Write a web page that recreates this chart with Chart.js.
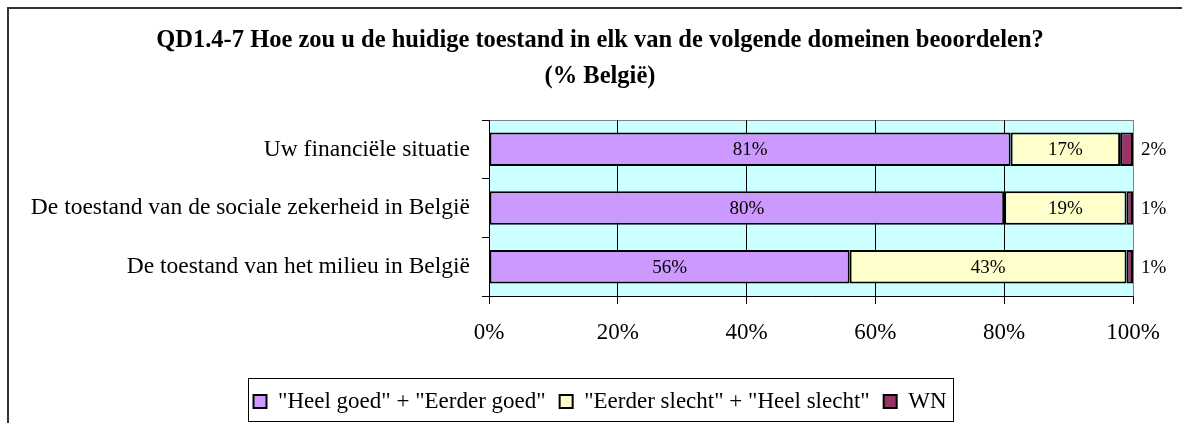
<!DOCTYPE html>
<html>
<head>
<meta charset="utf-8">
<script src="https://cdn.jsdelivr.net/npm/chart.js@4/dist/chart.umd.min.js"></script>
<style>
  html, body { margin: 0; padding: 0; background: #fff; }
  #wrap { width: 1182px; height: 423px; position: relative; }
</style>
</head>
<body>
<div id="wrap"><canvas id="chart"></canvas></div>
<script>
// categories, top to bottom
const categories = [
  'Uw financiële situatie',
  'De toestand van de sociale zekerheid in België',
  'De toestand van het milieu in België'
];
const seriesNames = ['"Heel goed" + "Eerder goed"', '"Eerder slecht" + "Heel slecht"', 'WN'];
const goed = [81, 80, 56];
const slecht = [17, 19, 43];
const wn = [2, 1, 1];
const xTicks = [0, 20, 40, 60, 80, 100];

const serif = '"Liberation Serif", "Times New Roman", serif';

// cyan plot background, grey frame round plot and outer frame
const backdrop = {
  id: 'backdrop',
  beforeDraw(chart) {
    const {ctx, chartArea: a} = chart;
    ctx.save();
    ctx.fillStyle = '#CCFFFF';
    ctx.fillRect(a.left, a.top, a.right - a.left, a.bottom - a.top);
    ctx.strokeStyle = '#808080';
    ctx.lineWidth = 1;
    ctx.strokeRect(a.left + 0.5, a.top + 0.5, a.right - a.left, a.bottom - a.top);
    ctx.strokeStyle = '#333';
    ctx.lineWidth = 2;
    ctx.strokeRect(8, 8, 1300, 600);
    ctx.restore();
  }
};

// percentage labels on the bars, WN outside on the right
const barLabels = {
  id: 'barLabels',
  afterDatasetsDraw(chart) {
    const {ctx} = chart;
    ctx.save();
    ctx.font = '19px ' + serif;
    ctx.fillStyle = '#000';
    ctx.textBaseline = 'middle';
    chart.data.datasets.forEach((ds, i) => {
      chart.getDatasetMeta(i).data.forEach((el, j) => {
        const txt = ds.data[j] + '%';
        if (i === 2) {
          ctx.textAlign = 'left';
          ctx.fillText(txt, el.x + 8, el.y + 1);
        } else {
          ctx.textAlign = 'center';
          ctx.fillText(txt, (el.x + el.base) / 2, el.y + 1);
        }
      });
    });
    ctx.restore();
  }
};

// box round the legend items
const legendBox = {
  id: 'legendBox',
  afterDraw(chart) {
    const boxes = chart.legend.legendHitBoxes;
    if (!boxes.length) return;
    const left = Math.min(...boxes.map(b => b.left)) - 6;
    const right = Math.max(...boxes.map(b => b.left + b.width)) + 6;
    const top = boxes[0].top - 12;
    const {ctx} = chart;
    ctx.save();
    ctx.strokeStyle = '#000';
    ctx.lineWidth = 1;
    ctx.strokeRect(Math.round(left) + 0.5, top + 0.5, Math.round(right - left), 43);
    ctx.restore();
  }
};

new Chart(document.getElementById('chart'), {
  type: 'bar',
  data: {
    labels: categories,
    datasets: [
      {label: seriesNames[0], data: goed, backgroundColor: '#CC99FF'},
      {label: seriesNames[1], data: slecht, backgroundColor: '#FFFFCC'},
      {label: seriesNames[2], data: wn, backgroundColor: '#993366'}
    ].map(d => Object.assign(d, {
      borderColor: '#000',
      borderWidth: 2,
      borderSkipped: false,
      categoryPercentage: 1,
      barPercentage: 0.57
    }))
  },
  options: {
    indexAxis: 'y',
    responsive: true,
    maintainAspectRatio: false,
    animation: false,
    layout: {padding: {left: 18, right: 0, top: 0, bottom: 0}},
    scales: {
      x: {
        stacked: true,
        min: 0,
        max: 100,
        afterBuildTicks: s => { s.ticks = xTicks.map(v => ({value: v})); },
        afterFit: s => { s.height = 80; },
        ticks: {
          callback: v => v + '%',
          color: '#000',
          font: {family: serif, size: 23},
          padding: 15,
          maxRotation: 0
        },
        grid: {
          color: c => (c.tick && c.tick.value === 100) ? '#808080' : '#000',
          tickColor: '#000',
          tickLength: 8,
          lineWidth: 1
        },
        border: {color: '#000'}
      },
      y: {
        stacked: true,
        afterFit: s => { s.width = 471; },
        ticks: {
          color: '#000',
          font: {family: serif, size: 23.5},
          padding: 12
        },
        grid: {
          drawOnChartArea: false,
          tickColor: '#000',
          tickLength: 7,
          offset: true
        },
        border: {color: '#000'}
      },
      y2: {
        type: 'category',
        position: 'right',
        afterFit: s => { s.width = 49; },
        grid: {display: false},
        ticks: {display: false},
        border: {display: false}
      }
    },
    plugins: {
      title: {
        display: true,
        text: ['QD1.4-7 Hoe zou u de huidige toestand in elk van de volgende domeinen beoordelen?', '(% België)'],
        color: '#000',
        font: {family: serif, size: 24.5, weight: 'bold', lineHeight: 36 / 24.5},
        padding: {top: 23, bottom: 25}
      },
      legend: {
        position: 'bottom',
        labels: {
          color: '#000',
          font: {family: serif, size: 23},
          boxWidth: 13,
          boxHeight: 13,
          padding: 14
        }
      },
      tooltip: {enabled: false}
    }
  },
  plugins: [backdrop, barLabels, legendBox]
});
</script>
</body>
</html>
